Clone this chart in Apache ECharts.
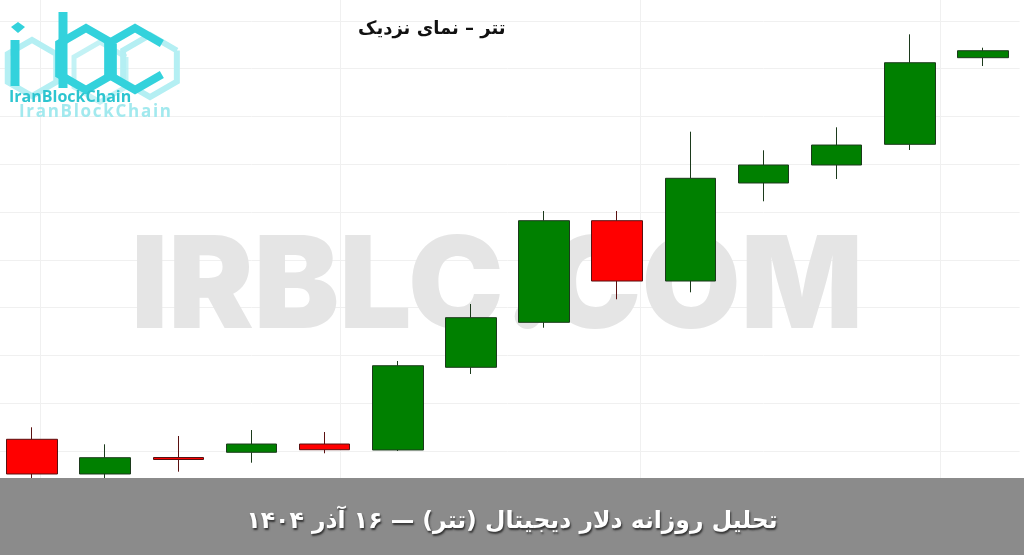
<!DOCTYPE html>
<html>
<head>
<meta charset="utf-8">
<script src="https://cdn.jsdelivr.net/npm/echarts@6/dist/echarts.min.js"></script>
<style>
html,body{margin:0;padding:0;background:#fff;overflow:hidden;width:1024px;height:555px;}
#chart{position:absolute;left:-5px;top:0;width:1034px;height:555px;}
</style>
</head>
<body>
<div id="chart"></div>
<script>
// Daily candles (labels hidden in the reference)
const categories = ['۳ آذر','۴ آذر','۵ آذر','۶ آذر','۷ آذر','۸ آذر','۹ آذر','۱۰ آذر','۱۱ آذر','۱۲ آذر','۱۳ آذر','۱۴ آذر','۱۵ آذر','۱۶ آذر'];
const openValues  = [111245,110519,110864,110973,111146,111021,112751,113692,115818,114556,116607,116983,117416,119228];
const closeValues = [110519,110860,110822,111146,111027,112784,113789,115818,114556,116705,116983,117401,119123,119374];
const lowValues   = [110247,110324,110567,110755,110952,111000,112611,113579,114174,114320,116224,116690,117297,119054];
const highValues  = [111496,111140,111314,111439,111397,112883,114075,116021,116021,117680,117291,117772,119717,119437];
const yTicks = {min:110000, max:120000, interval:1000};

const titleText = 'تتر – نمای نزدیک';
const bannerText = 'تحلیل روزانه دلار دیجیتال (تتر) — ۱۶ آذر ۱۴۰۴';
const watermarkText = 'IRBLC.COM';
const logoText = 'IranBlockChain';

const candleData = categories.map((c,i)=>[openValues[i],closeValues[i],lowValues[i],highValues[i]]);

const chart = echarts.init(document.getElementById('chart'), null, {renderer:'canvas'});

function hex(cx, cy, r, open){
  const pts = [];
  const angs = [-30,-90,-150,150,90,30];
  angs.forEach(a=>{const t=a*Math.PI/180; pts.push([cx+r*Math.cos(t), cy+r*Math.sin(t)]);});
  if(!open) pts.push(pts[0]);
  return pts;
}

const main = '#33d2dc', ghost = '#b4eff3';
const logo = [
  {type:'polyline', shape:{points:hex(150,66,31,false)}, style:{stroke:ghost,lineWidth:6,fill:null}, z:1},
  {type:'polyline', shape:{points:hex(32,68,28,false)}, style:{stroke:ghost,lineWidth:6,fill:null}, z:1},
  {type:'polyline', shape:{points:hex(100,72,30,false)}, style:{stroke:ghost,lineWidth:5,fill:null,opacity:0.8}, z:1},
  {type:'polyline', shape:{points:[[15,40],[15,86]]}, style:{stroke:main,lineWidth:9}, z:2},
  {type:'polygon', shape:{points:[[18,22],[25,27],[18,33],[11,27]]}, style:{fill:main}, z:2},
  {type:'polyline', shape:{points:[[63,12],[63,88]]}, style:{stroke:main,lineWidth:9}, z:2},
  {type:'polyline', shape:{points:hex(86,59,31,false)}, style:{stroke:main,lineWidth:8,fill:null,lineJoin:'miter'}, z:2},
  {type:'polyline', shape:{points:hex(135,59,31,true).slice(0,6)}, style:{stroke:main,lineWidth:8,fill:null,lineJoin:'miter'}, z:2},
  {type:'text', x:9, y:89, style:{text:logoText, fill:'#2dc5d0', font:'bold 16px "Open Sans"'}, z:3},
  {type:'text', x:19, y:104, style:{text:logoText.split('').join('\u200A'), fill:'#a2e9ee', font:'bold 17px "Open Sans"'}, z:3}
];

const option = {
  animation:false,
  backgroundColor:'#ffffff',
  grid:[
    {left:0.4, right:9.4, top:20.8, bottom:56.2, show:false},
    {left:45, right:5, top:0, bottom:77, show:false}
  ],
  xAxis:[
    {type:'category', data:categories, gridIndex:0, show:true, axisLine:{show:false}, axisTick:{show:false}, axisLabel:{show:false}, splitLine:{show:false}, boundaryGap:true},
    {type:'value', gridIndex:1, min:0, max:984, interval:300, axisLine:{show:false}, axisTick:{show:false}, axisLabel:{show:false}, splitLine:{show:true, lineStyle:{color:'#f0f0f0', width:1}}}
  ],
  yAxis:[
    {type:'value', gridIndex:0, min:yTicks.min, max:yTicks.max, interval:yTicks.interval, axisLine:{show:false}, axisTick:{show:false}, axisLabel:{show:false}, splitLine:{show:true, lineStyle:{color:'#f0f0f0', width:1}}},
    {type:'value', gridIndex:1, min:0, max:1, axisLine:{show:false}, axisTick:{show:false}, axisLabel:{show:false}, splitLine:{show:false}}
  ],
  graphic:[
    {type:'text', x:136, y:226, z:1, silent:true,
      style:{text:watermarkText, fill:'#e5e5e5', font:'900 128px Inter'}},
    {type:'group', x:5, y:0, children:[
      ...logo,
      {type:'text', x:358, y:20, z:5, style:{text:titleText, fill:'#111', font:'bold 18px "DejaVu Sans"'}},
      {type:'rect', shape:{x:-5, y:478, width:1034, height:77}, style:{fill:'#8b8b8b'}, z:10}
    ]},
    {type:'text', left:'center', top:510, z:11,
      style:{text:bannerText, fill:'#ffffff', font:'bold 23.5px "DejaVu Sans"', textShadowColor:'rgba(40,40,40,0.9)', textShadowBlur:2, textShadowOffsetX:1, textShadowOffsetY:2}}
  ],
  series:[{
    type:'candlestick',
    xAxisIndex:0, yAxisIndex:0,
    data:candleData,
    barWidth:51,
    z:5,
    itemStyle:{
      color:'#008000', color0:'#ff0000',
      borderColor:'#1c3a1c', borderColor0:'#5a1010',
      borderWidth:1
    }
  }]
};
chart.setOption(option);
</script>
</body>
</html>
